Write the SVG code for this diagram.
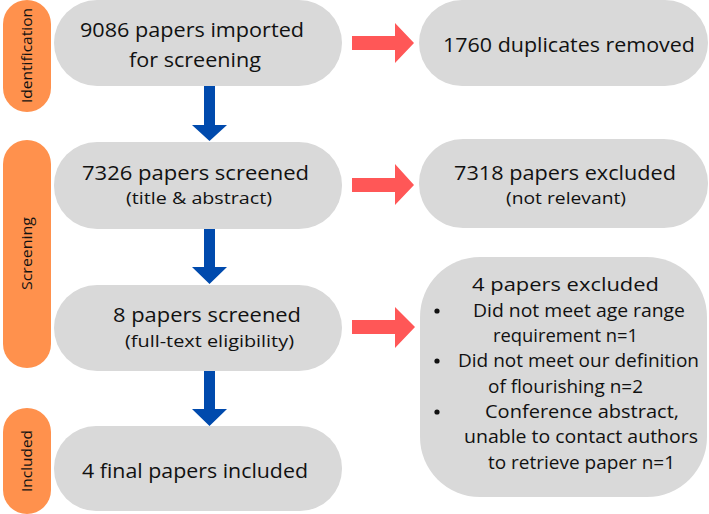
<svg xmlns="http://www.w3.org/2000/svg" width="709" height="514" viewBox="0 0 709 514">
<style>
.box{fill:#d9d9d9}
.stage{fill:#ff914d}
.t{font-family:"Open Sans",Lato,"Liberation Sans",sans-serif;fill:#111}
.big{font-size:20px}
.sm{font-size:17px}
.rt{font-size:19px}
.lbl{font-size:14px}
.blue{fill:#004aad}
.red{fill:#ff5757}
</style>
<rect width="709" height="514" fill="#fff"/>
<g id="stage-identification"><rect class="stage" x="3" y="0" width="48" height="112" rx="24"/><text class="t lbl" transform="translate(32,103) rotate(-90)" textLength="95" lengthAdjust="spacingAndGlyphs">Identification</text></g>
<g id="stage-screening"><rect class="stage" x="3" y="140" width="48" height="228" rx="24"/><text class="t lbl" transform="translate(32,290) rotate(-90)" textLength="73" lengthAdjust="spacingAndGlyphs">Screening</text></g>
<g id="stage-included"><rect class="stage" x="3" y="408" width="48" height="106" rx="24"/><text class="t lbl" transform="translate(32,492) rotate(-90)" textLength="62" lengthAdjust="spacingAndGlyphs">Included</text></g>
<g id="n1"><rect class="box" x="54" y="0" width="288" height="86" rx="43"/><text class="t big" x="80" y="37" textLength="224" lengthAdjust="spacingAndGlyphs">9086 papers imported</text><text class="t big" x="129" y="67" textLength="132" lengthAdjust="spacingAndGlyphs">for screening</text></g>
<g id="n2"><rect class="box" x="54" y="142" width="288" height="87" rx="43"/><text class="t big" x="82" y="180" textLength="227" lengthAdjust="spacingAndGlyphs">7326 papers screened</text><text class="t sm" x="126" y="204" textLength="146" lengthAdjust="spacingAndGlyphs">(title &amp; abstract)</text></g>
<g id="n3"><rect class="box" x="54" y="285" width="288" height="86" rx="43"/><text class="t big" x="113" y="322" textLength="188" lengthAdjust="spacingAndGlyphs">8 papers screened</text><text class="t sm" x="125" y="347" textLength="169" lengthAdjust="spacingAndGlyphs">(full-text eligibility)</text></g>
<g id="n4"><rect class="box" x="54" y="426" width="288" height="85" rx="42"/><text class="t big" x="82" y="478" textLength="226" lengthAdjust="spacingAndGlyphs">4 final papers included</text></g>
<g id="r1"><rect class="box" x="419" y="0" width="289" height="86" rx="43"/><text class="t big" x="443" y="52" textLength="252" lengthAdjust="spacingAndGlyphs">1760 duplicates removed</text></g>
<g id="r2"><rect class="box" x="419" y="139" width="289" height="89" rx="44"/><text class="t big" x="454" y="180" textLength="222" lengthAdjust="spacingAndGlyphs">7318 papers excluded</text><text class="t sm" x="506" y="204" textLength="120" lengthAdjust="spacingAndGlyphs">(not relevant)</text></g>
<g id="r3"><rect class="box" x="420" y="257" width="287" height="240" rx="60"/>
<text class="t rt" x="472" y="291" textLength="187" lengthAdjust="spacingAndGlyphs">4 papers excluded</text>
<circle cx="437" cy="311" r="2.6" fill="#111"/><circle cx="437" cy="361" r="2.6" fill="#111"/><circle cx="437" cy="412" r="2.6" fill="#111"/>
<text class="t rt" x="473" y="317" textLength="212" lengthAdjust="spacingAndGlyphs">Did not meet age range</text>
<text class="t rt" x="493" y="342" textLength="145" lengthAdjust="spacingAndGlyphs">requirement n=1</text>
<text class="t rt" x="458" y="367" textLength="241" lengthAdjust="spacingAndGlyphs">Did not meet our definition</text>
<text class="t rt" x="488" y="393" textLength="155" lengthAdjust="spacingAndGlyphs">of flourishing n=2</text>
<text class="t rt" x="485" y="418" textLength="194" lengthAdjust="spacingAndGlyphs">Conference abstract,</text>
<text class="t rt" x="464" y="443" textLength="234" lengthAdjust="spacingAndGlyphs">unable to contact authors</text>
<text class="t rt" x="488" y="469" textLength="187" lengthAdjust="spacingAndGlyphs">to retrieve paper n=1</text>
</g>
<g id="connectors">
<polygon class="blue" points="204,86 215,86 215,125 227,125 209.5,141 192,125 204,125"/>
<polygon class="blue" points="204,229 215,229 215,267 227,267 209.5,284 192,267 204,267"/>
<polygon class="blue" points="204,371 215,371 215,409 227,409 209.5,426 192,409 204,409"/>
<polygon class="red" points="352,36 395,36 395,23 414,43 395,63 395,50 352,50"/>
<polygon class="red" points="352,178 395,178 395,164 414,185 395,205 395,192 352,192"/>
<polygon class="red" points="352,320 395,320 395,307 415,327 395,348 395,334 352,334"/>
</g>
</svg>
